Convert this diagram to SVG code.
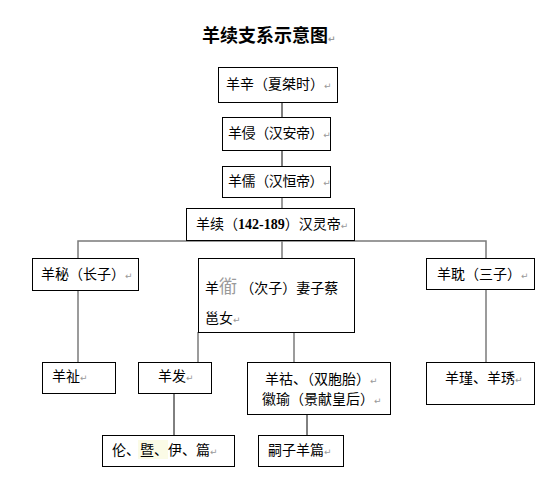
<svg xmlns="http://www.w3.org/2000/svg" width="558" height="477" viewBox="0 0 558 477">
<style>
.bg{fill:#fff}
.box{fill:#fff;stroke:#000;stroke-width:1}
.t{font-family:"Noto Sans CJK SC","Noto Sans CJK JP",sans-serif;font-size:14px;fill:#000}
.title{font-family:"Noto Sans CJK SC",sans-serif;font-size:18px;font-weight:bold;fill:#000}
.pm{font-family:"DejaVu Sans",sans-serif;font-size:9px;fill:#999}
.c{stroke:#7a7a7a;stroke-width:1.5;fill:none}
.k{stroke:#000;stroke-width:1;fill:none}
</style>
<rect class="bg" x="0" y="0" width="558" height="477"/>
<text class="title" x="202" y="42">羊续支系示意图<tspan class="pm">↵</tspan></text>
<g id="connectors">
<line class="k" x1="282" y1="102" x2="282" y2="117"/>
<line class="k" x1="282" y1="150" x2="282" y2="166"/>
<line class="c" x1="282" y1="197" x2="282" y2="208"/>
<polyline class="c" points="78,258 78,241 486,241 486,258"/>
<line class="c" x1="282" y1="241" x2="282" y2="258"/>
<line class="c" x1="78" y1="290" x2="78" y2="362"/>
<line class="c" x1="486" y1="289" x2="486" y2="362"/>
<line class="c" x1="198" y1="332" x2="198" y2="362"/>
<line class="c" x1="294" y1="332" x2="294" y2="362"/>
<line class="k" x1="174" y1="393" x2="174" y2="435"/>
<line class="k" x1="307" y1="414" x2="307" y2="435"/>
</g>
<g id="n1"><rect class="box" x="218.5" y="67.5" width="119" height="35"/><text class="t" x="226" y="89">羊辛（夏桀时）<tspan class="pm">↵</tspan></text></g>
<g id="n2"><rect class="box" x="222.5" y="117.5" width="108" height="33"/><text class="t" x="228" y="138" font-size="13" letter-spacing="-0.4">羊侵（汉安帝）<tspan class="pm">↵</tspan></text></g>
<g id="n3"><rect class="box" x="222.5" y="166.5" width="108" height="31"/><text class="t" x="228" y="186" font-size="13" letter-spacing="-0.4">羊儒（汉恒帝）<tspan class="pm">↵</tspan></text></g>
<g id="n4"><rect class="box" x="186.5" y="208.5" width="168" height="32"/><text class="t" x="196" y="229">羊续（<tspan font-weight="bold" font-family="Liberation Serif,serif">142-189</tspan>）汉灵帝<tspan class="pm">↵</tspan></text></g>
<g id="n5"><rect class="box" x="32.5" y="258.5" width="106" height="32"/><text class="t" x="41" y="279">羊秘（长子）<tspan class="pm">↵</tspan></text></g>
<g id="n6"><rect class="box" x="198.5" y="258.5" width="156" height="74"/><text class="t" x="205" y="293">羊<tspan font-size="18" fill="#9a9a9a">衜</tspan> （次子）妻子蔡</text><text class="t" x="205" y="323">邕女<tspan class="pm">↵</tspan></text></g>
<g id="n7"><rect class="box" x="426.5" y="258.5" width="108" height="31"/><text class="t" x="437" y="279">羊耽（三子）<tspan class="pm">↵</tspan></text></g>
<g id="n8"><rect class="box" x="42.5" y="362.5" width="73" height="31"/><text class="t" x="52" y="381">羊祉<tspan class="pm">↵</tspan></text></g>
<g id="n9"><rect class="box" x="138.5" y="362.5" width="73" height="31"/><text class="t" x="158" y="381">羊发<tspan class="pm">↵</tspan></text></g>
<g id="n10"><rect class="box" x="247.5" y="362.5" width="143" height="52"/><text class="t" x="265" y="384">羊祜、（双胞胎）<tspan class="pm">↵</tspan></text><text class="t" x="262" y="404">徽瑜（景献皇后）<tspan class="pm">↵</tspan></text></g>
<g id="n11"><rect class="box" x="426.5" y="362.5" width="108" height="42"/><text class="t" x="445" y="383">羊瑾、羊琇<tspan class="pm">↵</tspan></text></g>
<g id="n12"><rect class="box" x="102.5" y="435.5" width="132" height="31"/><rect x="138" y="440" width="30" height="19" fill="#fbfbe6"/><text class="t" x="112" y="455">伦、暨、伊、篇<tspan class="pm">↵</tspan></text></g>
<g id="n13"><rect class="box" x="258.5" y="435.5" width="85" height="31"/><text class="t" x="268" y="455">嗣子羊篇<tspan class="pm">↵</tspan></text></g>
</svg>
